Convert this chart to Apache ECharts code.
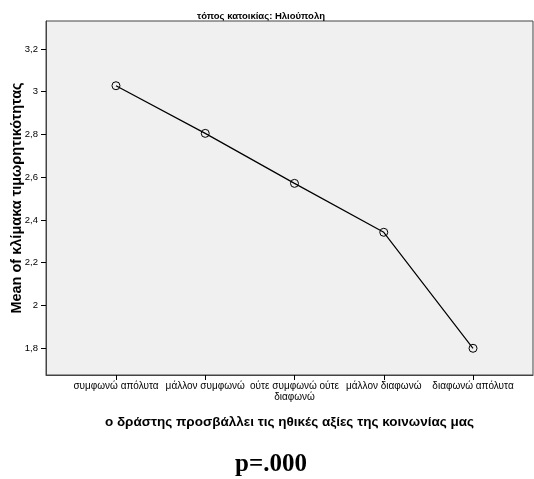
<!DOCTYPE html>
<html><head><meta charset="utf-8">
<script src="https://cdn.jsdelivr.net/npm/echarts@6/dist/echarts.min.js"></script>
<style>html,body{margin:0;padding:0;background:#fff}#c{width:534px;height:479px}</style>
</head><body><div id="c"></div>
<script>
var categories = ["συμφωνώ απόλυτα", "μάλλον συμφωνώ", "ούτε συμφωνώ ούτε\nδιαφωνώ", "μάλλον διαφωνώ", "διαφωνώ απόλυτα"];
var means = [3.028, 2.805, 2.571, 2.342, 1.799];
var yTicks = [1.8, 2.0, 2.2, 2.4, 2.6, 2.8, 3.0, 3.2];
var chartTitle = "τόπος κατοικίας: Ηλιούπολη";
var yName = "Mean of κλίμακα τιμωρητικότητας";
var xName = "ο δράστης προσβάλλει τις ηθικές αξίες της κοινωνίας μας";
var pText = "p=.000";

var chart = echarts.init(document.getElementById('c'));
var xIdx = categories.map(function(_, i){ return i; });
chart.setOption({
  animation: false,
  backgroundColor: '#ffffff',
  title: [
    {text: chartTitle, left: 256, top: 6, textAlign: 'center',
     textStyle: {fontFamily: 'Liberation Sans, Arial', fontSize: 9.5, fontWeight: 'bold', color: '#000'}},
    {text: pText, left: 266, top: 447, textAlign: 'center',
     textStyle: {fontFamily: 'Liberation Serif, Times New Roman', fontSize: 25, fontWeight: 'bold', color: '#000'}}
  ],
  grid: {left: 46, top: 21, right: 1, bottom: 104, containLabel: false, outerBoundsMode: 'none',
    show: true, backgroundColor: '#f0f0f0', borderColor: '#444', borderWidth: 1},
  xAxis: {
    type: 'value', min: -0.784, max: 4.672,
    name: xName, nameLocation: 'middle', nameGap: 40, nameMoveOverlap: false,
    nameTextStyle: {fontFamily: 'Liberation Sans, Arial', fontSize: 13.5, fontWeight: 'bold', color: '#000'},
    axisLine: {show: true, onZero: false, lineStyle: {color: '#444'}},
    axisTick: {show: true, inside: false, customValues: xIdx, length: 5, lineStyle: {color: '#000'}},
    axisLabel: {customValues: xIdx, fontFamily: 'Liberation Sans, Arial', fontSize: 10, color: '#000', margin: 6, lineHeight: 11,
      formatter: function(v){ var i = Math.round(v); return categories[i] || ''; }},
    splitLine: {show: false}
  },
  yAxis: {
    type: 'value', min: 1.674, max: 3.331,
    name: yName, nameLocation: 'middle', nameGap: 22, nameRotate: 90, nameMoveOverlap: false,
    nameTextStyle: {fontFamily: 'Liberation Sans, Arial', fontSize: 14.5, fontWeight: 'bold', color: '#000'},
    axisLine: {show: true, onZero: false, lineStyle: {color: '#444'}},
    axisTick: {show: true, inside: false, customValues: yTicks, length: 5, lineStyle: {color: '#000'}},
    axisLabel: {customValues: yTicks, fontFamily: 'Liberation Sans, Arial', fontSize: 9.5, color: '#000', margin: 8,
      formatter: function(v){ return String(Math.round(v*10)/10).replace('.', ','); }},
    splitLine: {show: false}
  },
  series: [{
    type: 'line',
    data: means.map(function(m, i){ return [i, m]; }),
    symbol: 'circle', symbolSize: 8,
    itemStyle: {color: 'rgba(0,0,0,0)', borderColor: '#000', borderWidth: 1},
    lineStyle: {color: '#000', width: 1.2}
  }]
});
</script></body></html>
